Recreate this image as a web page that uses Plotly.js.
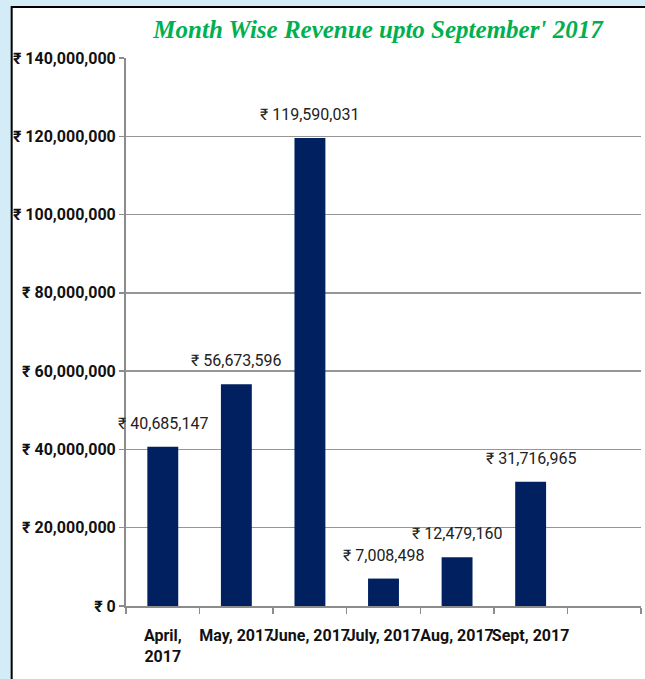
<!DOCTYPE html>
<html>
<head>
<meta charset="utf-8">
<script src="https://cdn.plot.ly/plotly-3.0.1.min.js"></script>
<style>
html,body{margin:0;padding:0;background:#d3ecf8;}
#chart{width:645px;height:679px;}
</style>
</head>
<body>
<div id="chart"></div>
<script>
var categories = ["April,<br>2017", "May, 2017", "June, 2017", "July, 2017", "Aug, 2017", "Sept, 2017", " "];
var revenue = [40685147, 56673596, 119590031, 7008498, 12479160, 31716965, null];
var tickValues = [0, 20000000, 40000000, 60000000, 80000000, 100000000, 120000000, 140000000];

function fmt(v){ return "\u20B9 " + v.toLocaleString("en-US"); }
var tickText = tickValues.map(fmt);

var fontFam = "Roboto, 'DejaVu Sans Condensed', sans-serif";

var annotations = [];
for (var i = 0; i < revenue.length; i++) {
  if (revenue[i] === null) continue;
  annotations.push({
    x: categories[i], y: revenue[i], xref: 'x', yref: 'y',
    text: fmt(revenue[i]), showarrow: false,
    yanchor: 'bottom', yshift: 12,
    font: {family: fontFam, size: 16, color: '#222'}
  });
}

var trace = {
  type: 'bar', x: categories, y: revenue,
  marker: {color: '#002060'}, width: 0.42,
  hoverinfo: 'skip'
};

var layout = {
  width: 645, height: 679,
  margin: {l: 126, r: 4, t: 58, b: 73},
  paper_bgcolor: '#d3ecf8',
  plot_bgcolor: 'rgba(0,0,0,0)',
  title: {
    text: "Month Wise Revenue upto September' 2017",
    font: {family: "'Liberation Serif', serif", size: 25, color: '#00b050', weight: 'bold', style: 'italic'},
    x: 0.586, xanchor: 'center', y: 0.957, yanchor: 'middle'
  },
  xaxis: {
    type: 'category', categoryarray: categories,
    range: [-0.5, categories.length - 0.5], autorange: false,
    showline: true, linecolor: '#8c8c8c', linewidth: 2,
    ticks: 'outside', tickson: 'boundaries', ticklen: 6, tickcolor: '#8c8c8c', tickwidth: 1.5,
    tickangle: 0, ticklabelstandoff: 14,
    showgrid: false,
    tickfont: {family: fontFam, size: 16, color: '#111', weight: 'bold'},
    fixedrange: true
  },
  yaxis: {
    range: [0, 140000000], autorange: false,
    tickvals: tickValues, ticktext: tickText,
    showline: true, linecolor: '#8c8c8c', linewidth: 2,
    ticks: 'outside', ticklen: 5, tickcolor: '#8c8c8c', tickwidth: 1.5,
    showgrid: true, gridcolor: '#969696', gridwidth: 1.5,
    zeroline: false,
    tickfont: {family: fontFam, size: 16, color: '#111', weight: 'bold'},
    fixedrange: true
  },
  shapes: [{
    type: 'rect', xref: 'paper', yref: 'paper', layer: 'below',
    x0: -0.222, x1: 1.1, y0: -0.2, y1: 1.093,
    fillcolor: '#ffffff', line: {color: '#000000', width: 2}
  }],
  annotations: annotations,
  showlegend: false
};

Plotly.newPlot('chart', [trace], layout, {displayModeBar: false, staticPlot: true});
</script>
</body>
</html>
